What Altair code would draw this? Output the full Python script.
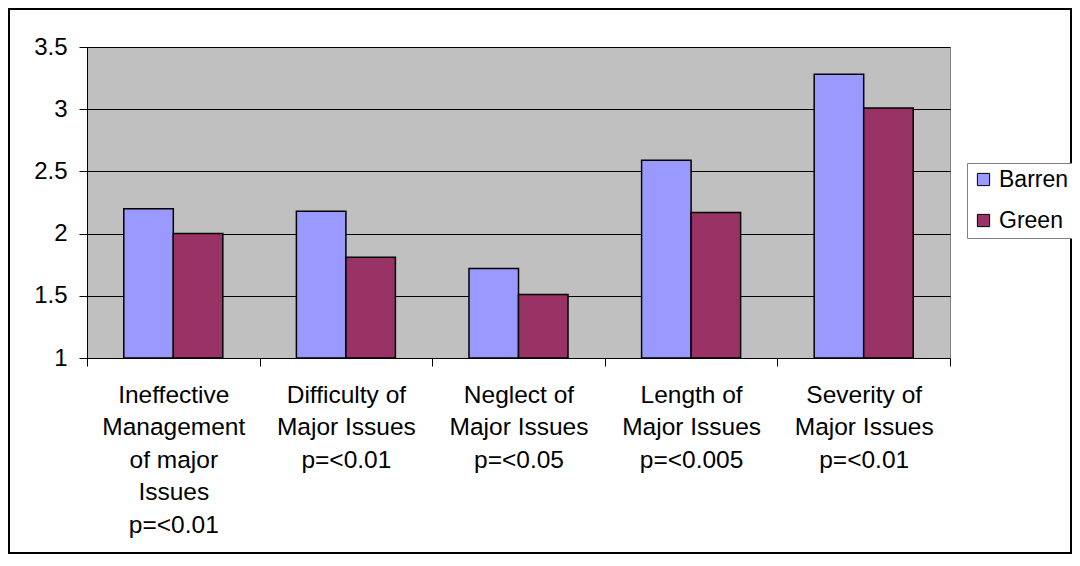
import altair as alt
import pandas as pd

categories = [
    "Ineffective\nManagement\nof major\nIssues\np=<0.01",
    "Difficulty of\nMajor Issues\np=<0.01",
    "Neglect of\nMajor Issues\np=<0.05",
    "Length of\nMajor Issues\np=<0.005",
    "Severity of\nMajor Issues\np=<0.01",
]
series = ["Barren", "Green"]
barren = [2.20, 2.18, 1.72, 2.59, 3.28]
green = [2.00, 1.81, 1.51, 2.17, 3.01]
y_ticks = [1, 1.5, 2, 2.5, 3, 3.5]
colors = ["#9999FF", "#993366"]

rows = []
for c, b, g in zip(categories, barren, green):
    rows.append({"category": c, "series": "Barren", "value": b})
    rows.append({"category": c, "series": "Green", "value": g})
df = pd.DataFrame(rows)

FONT = "Liberation Sans"
W, H = 863, 311
PAD = {"left": 79, "top": 39, "right": 122, "bottom": 196}

bars = alt.Chart(df).mark_bar(stroke="black", strokeWidth=1.5).encode(
    x=alt.X(
        "category:N",
        sort=categories,
        title=None,
        scale=alt.Scale(paddingInner=0, paddingOuter=0),
        axis=alt.Axis(
            labelExpr="split(datum.label, '\\n')",
            labelAngle=0,
            labelFont=FONT,
            labelFontSize=24.5,
            labelColor="black",
            labelLineHeight=32.5,
            labelBaseline="top",
            labelPadding=17,
            tickBand="extent",
            tickSize=8,
            tickColor="black",
            domainColor="black",
            grid=False,
        ),
    ),
    xOffset=alt.XOffset(
        "series:N",
        sort=series,
        scale=alt.Scale(paddingInner=0, paddingOuter=0.743),
    ),
    y=alt.Y(
        "value:Q",
        title=None,
        scale=alt.Scale(domain=[1, 3.5], zero=False, nice=False),
        axis=alt.Axis(
            values=y_ticks,
            format="~g",
            labelFont=FONT,
            labelFontSize=24,
            labelColor="black",
            labelPadding=12,
            tickSize=8,
            tickColor="black",
            domainColor="black",
            gridColor="black",
            gridOpacity=1,
            gridWidth=1,
        ),
    ),
    y2=alt.datum(1),
    color=alt.Color(
        "series:N",
        sort=series,
        scale=alt.Scale(domain=series, range=colors),
        legend=alt.Legend(
            title=None,
            orient="none",
            legendX=880,
            legendY=116,
            symbolType="square",
            symbolSize=150,
            symbolStrokeColor="black",
            symbolStrokeWidth=1,
            symbolOpacity=1,
            labelFont=FONT,
            labelFontSize=23,
            labelColor="black",
            rowPadding=17,
            padding=5,
            strokeColor="#808080",
            fillColor="white",
        ),
    ),
)

frame = alt.Chart(alt.Data(values=[{"f": 1}])).mark_rect(
    filled=False, stroke="black", strokeWidth=2
).encode(
    x=alt.value(-78),
    x2=alt.value(W + PAD["right"] - 1),
    y=alt.value(-38),
    y2=alt.value(H + PAD["bottom"] - 1),
)

chart = (
    alt.layer(bars, frame)
    .properties(
        width=W,
        height=H,
        padding=PAD,
        autosize=alt.AutoSizeParams(type="none"),
        background="white",
    )
    .configure_view(fill="#C0C0C0", stroke="#808080", strokeWidth=1)
)

chart.save("out.html", embed_options={"renderer": "svg", "actions": False})
